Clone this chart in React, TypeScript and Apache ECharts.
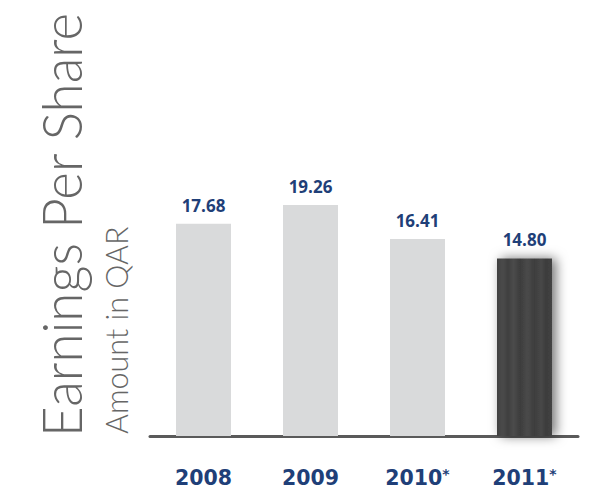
import React, { useEffect, useRef } from "react";
import * as echarts from "echarts";

const years = ["2008", "2009", "2010", "2011"];
const yearMarks = ["", "", "*", "*"];
const eps = [17.68, 19.26, 16.41, 14.8];
const highlightIndex = 3;

const TITLE = "Earnings Per Share";
const SUBTITLE = "Amount in QAR";

const BLUE = "#1f3f78";

export default function App() {
  const ref = useRef<HTMLDivElement>(null);

  useEffect(() => {
    document.body.style.margin = "0";
    const chart = echarts.init(ref.current!, null, { renderer: "svg" });

    // vertical brushed stripes on the highlighted bar
    const stripes = new echarts.graphic.LinearGradient(0, 0, 1, 0, [
      { offset: 0, color: "#3f3f3f" },
      { offset: 0.1, color: "#4a4a4a" },
      { offset: 0.2, color: "#404040" },
      { offset: 0.3, color: "#4b4b4b" },
      { offset: 0.42, color: "#3d3d3d" },
      { offset: 0.55, color: "#4a4a4a" },
      { offset: 0.68, color: "#3e3e3e" },
      { offset: 0.8, color: "#474747" },
      { offset: 0.9, color: "#3c3c3c" },
      { offset: 1, color: "#444444" },
    ]);

    chart.setOption({
      animation: false,
      backgroundColor: "#ffffff",
      grid: { left: 150, right: 14, top: 76, bottom: 55, containLabel: false },
      xAxis: {
        type: "category",
        data: years,
        axisLine: { lineStyle: { color: "#5a5a5a", width: 3 } },
        axisTick: { show: false },
        axisLabel: {
          margin: 31,
          formatter: (v: string, i: number) =>
            yearMarks[i] ? `{y|${v}}{s|${yearMarks[i]}}` : `{y|${v}}`,
          rich: {
            y: {
              fontFamily: "DejaVu Sans",
              fontWeight: "bold",
              fontSize: 20.5,
              color: BLUE,
            },
            s: {
              fontFamily: "DejaVu Sans",
              fontWeight: "bold",
              fontSize: 14,
              color: BLUE,
              verticalAlign: "top",
              padding: [0, 0, 8, 0],
            },
          },
        },
      },
      yAxis: {
        type: "value",
        min: 0,
        max: 30,
        show: false,
        splitLine: { show: false },
      },
      series: [
        {
          type: "bar",
          barWidth: 55,
          data: eps.map((v, i) =>
            i === highlightIndex
              ? {
                  value: v,
                  itemStyle: {
                    color: stripes,
                    shadowBlur: 12,
                    shadowColor: "rgba(0,0,0,0.55)",
                    shadowOffsetX: 4,
                    shadowOffsetY: 0,
                  },
                }
              : { value: v }
          ),
          itemStyle: { color: "#d9dadb" },
          label: {
            show: true,
            position: "top",
            distance: 10,
            formatter: (p: any) => p.value.toFixed(2),
            fontFamily: "Open Sans",
            fontWeight: "bold",
            fontSize: 17,
            color: BLUE,
          },
        },
      ],
      graphic: [
        {
          type: "text",
          x: 60,
          y: 437,
          rotation: Math.PI / 2,
          scaleX: 0.945,
          style: {
            text: TITLE,
            fontFamily: "Lato",
            fontWeight: 300,
            fontSize: 56,
            fill: "#666666",
            textAlign: "left",
            textVerticalAlign: "middle",
          },
        },
        {
          type: "text",
          x: 116,
          y: 434,
          rotation: Math.PI / 2,
          style: {
            text: SUBTITLE,
            fontFamily: "Lato",
            fontWeight: 300,
            fontSize: 30.5,
            fill: "#666666",
            textAlign: "left",
            textVerticalAlign: "middle",
          },
        },
      ],
    });

    return () => chart.dispose();
  }, []);

  return <div ref={ref} style={{ width: 592, height: 491 }} />;
}
